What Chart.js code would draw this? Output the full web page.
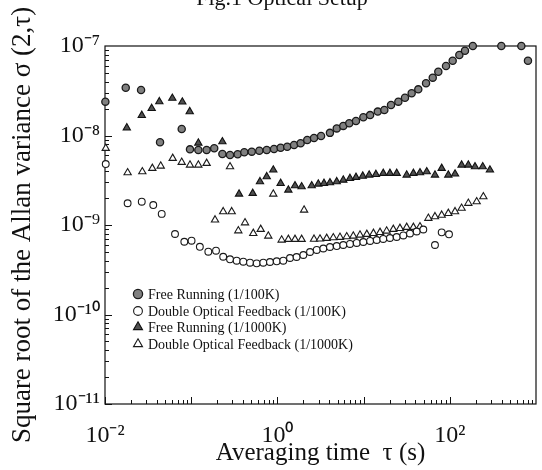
<!DOCTYPE html>
<html><head><meta charset="utf-8">
<script src="https://cdn.jsdelivr.net/npm/chart.js@4"></script>
<style>html,body{margin:0;padding:0;background:#fff}</style>
</head><body>
<canvas id="c" width="542" height="470"></canvas>
<script>
const seriesLabels = [
  'Free Running (1/100K)',
  'Double Optical Feedback (1/100K)',
  'Free Running (1/1000K)',
  'Double Optical Feedback (1/1000K)'
];
const fr100X = [0.0101,0.0174,0.0262,0.0435,0.0776,0.0968,0.121,0.151,0.185,0.230,0.282,0.346,0.413,0.504,0.617,0.752,0.914,1.09,1.30,1.56,1.86,2.22,2.66,3.21,4.07,4.88,5.81,6.82,8.16,9.93,11.9,14.6,17.4,20.8,25.3,30.2,36.1,43.1,53.0,63.4,73.6,90.4,108,129,150,185,396,676,807];
const fr100Y = [2.39e-8,3.42e-8,3.22e-8,8.4e-9,1.18e-8,7.0e-9,6.89e-9,6.89e-9,7.2e-9,6.21e-9,6.05e-9,6.17e-9,6.5e-9,6.6e-9,6.76e-9,6.89e-9,7.07e-9,7.31e-9,7.5e-9,7.83e-9,8.18e-9,8.9e-9,9.38e-9,9.87e-9,1.07e-8,1.20e-8,1.28e-8,1.37e-8,1.45e-8,1.60e-8,1.69e-8,1.85e-8,1.93e-8,2.19e-8,2.39e-8,2.64e-8,2.96e-8,3.28e-8,3.83e-8,4.43e-8,5.16e-8,5.98e-8,6.85e-8,7.93e-8,8.86e-8,1e-7,1e-7,1e-7,6.85e-8];
const dof100X = [0.0102,0.0183,0.0267,0.0363,0.0455,0.0649,0.0832,0.101,0.126,0.158,0.194,0.235,0.282,0.337,0.402,0.481,0.575,0.686,0.820,0.982,1.17,1.40,1.67,2.00,2.39,2.86,3.41,4.07,4.88,5.81,6.95,8.32,9.93,11.9,14.2,16.9,20.2,24.2,28.9,34.5,41.3,49.3,67.3,80.5,97.9];
const dof100Y = [4.8e-9,1.75e-9,1.82e-9,1.67e-9,1.33e-9,7.93e-10,6.5e-10,6.68e-10,5.71e-10,5.03e-10,5.16e-10,4.42e-10,4.14e-10,3.99e-10,3.89e-10,3.79e-10,3.73e-10,3.79e-10,3.86e-10,3.93e-10,3.99e-10,4.28e-10,4.39e-10,4.62e-10,4.99e-10,5.26e-10,5.46e-10,5.68e-10,5.82e-10,5.98e-10,6.14e-10,6.30e-10,6.46e-10,6.63e-10,6.80e-10,6.98e-10,7.16e-10,7.34e-10,7.64e-10,8.04e-10,8.46e-10,8.91e-10,5.98e-10,8.28e-10,7.87e-10];
const fr1000X = [0.0179,0.0267,0.0348,0.0427,0.0604,0.0789,0.0961,0.121,0.230,0.359,0.517,0.628,0.752,0.896,1.09,1.34,1.60,1.91,2.50,2.98,3.47,4.07,4.88,5.81,6.95,8.16,9.77,11.6,13.9,16.9,20.2,24.2,31.6,37.8,45.1,54.0,67.3,80.5,96.1,115,137,164,196,241,292];
const fr1000Y = [1.22e-8,1.68e-8,2.01e-8,2.39e-8,2.61e-8,2.37e-8,1.85e-8,8.24e-9,8.53e-9,2.22e-9,2.26e-9,3.05e-9,3.47e-9,4.12e-9,2.92e-9,2.46e-9,2.75e-9,2.68e-9,2.75e-9,2.87e-9,2.92e-9,2.97e-9,3.05e-9,3.18e-9,3.32e-9,3.41e-9,3.52e-9,3.62e-9,3.68e-9,3.78e-9,3.78e-9,3.78e-9,3.62e-9,3.78e-9,3.84e-9,3.94e-9,3.62e-9,4.30e-9,3.62e-9,3.72e-9,4.68e-9,4.68e-9,4.48e-9,4.48e-9,4.12e-9];
const dof1000X = [0.0102,0.0183,0.0271,0.0354,0.0443,0.0610,0.0776,0.0968,0.121,0.151,0.282,0.189,0.235,0.295,0.352,0.421,0.525,0.640,0.784,0.896,1.12,1.34,1.60,1.91,2.04,2.66,3.12,3.73,4.45,5.32,6.37,7.59,9.08,10.9,13.0,15.5,18.5,22.1,26.4,31.6,37.8,45.1,56.4,67.3,80.5,96.1,115,137,164,205,245];
const dof1000Y = [7.2e-9,3.84e-9,3.94e-9,4.30e-9,4.56e-9,5.56e-9,5.02e-9,4.68e-9,4.68e-9,4.89e-9,4.48e-9,1.14e-9,1.41e-9,1.41e-9,8.63e-10,1.06e-9,8.07e-10,8.95e-10,7.53e-10,2.22e-9,6.8e-10,6.92e-10,6.92e-10,6.92e-10,1.47e-9,6.95e-10,6.98e-10,7.1e-10,7.21e-10,7.29e-10,7.4e-10,7.53e-10,7.73e-10,7.87e-10,8.07e-10,8.28e-10,8.57e-10,8.95e-10,9.18e-10,9.42e-10,9.42e-10,9.57e-10,1.19e-9,1.24e-9,1.29e-9,1.35e-9,1.41e-9,1.54e-9,1.75e-9,1.82e-9,2.07e-9];

const xTickValues = [1e-2, 1e0, 1e2];
const xTickLabels = ['10\u207B\u00B2', '10\u2070', '10\u00B2'];
const yTickValues = [1e-11, 1e-10, 1e-9, 1e-8, 1e-7];
const yTickLabels = ['10\u207B\u00B9\u00B9', '10\u207B\u00B9\u2070', '10\u207B\u2079', '10\u207B\u2078', '10\u207B\u2077'];
const chartTitle = 'Fig.1 Optical Setup';
const xTitle = 'Averaging time  \u03C4 (s)';
const yTitle = 'Square root of the Allan variance \u03C3 (2,\u03C4)';

const SERIF = "'Liberation Serif', 'Times New Roman', serif";
const styles = [
  {pointStyle:'circle', radius:3.6, bg:'#808080', border:'#1a1a1a', bw:1.3},
  {pointStyle:'circle', radius:3.4, bg:'#ffffff', border:'#1a1a1a', bw:1.1},
  {pointStyle:'triangle', radius:4.2, bg:'#505050', border:'#111111', bw:1.1},
  {pointStyle:'triangle', radius:4.2, bg:'#ffffff', border:'#1a1a1a', bw:1.1}
];
const xs = [fr100X, dof100X, fr1000X, dof1000X];
const ys = [fr100Y, dof100Y, fr1000Y, dof1000Y];

const datasets = seriesLabels.map((lab, k) => ({
  label: lab,
  data: xs[k].map((x, i) => ({x: x, y: ys[k][i]})),
  showLine: false,
  pointStyle: styles[k].pointStyle,
  pointRadius: styles[k].radius,
  pointBackgroundColor: styles[k].bg,
  pointBorderColor: styles[k].border,
  pointBorderWidth: styles[k].bw,
  clip: false
}));

const framePlugin = {
  id: 'frameTicks',
  beforeDatasetsDraw(chart) {
    const {ctx, chartArea: a, scales: {x, y}} = chart;
    ctx.save();
    ctx.strokeStyle = '#111';
    ctx.lineWidth = 1.2;
    ctx.strokeRect(a.left, a.top, a.right - a.left, a.bottom - a.top);
    ctx.lineWidth = 1;
    ctx.beginPath();
    for (let e = -2; e <= 2; e++) {
      for (let m = 1; m <= 9; m++) {
        const px = Math.round(x.getPixelForValue(m * Math.pow(10, e))) + 0.5;
        const len = m === 1 ? 7 : 4;
        ctx.moveTo(px, a.bottom); ctx.lineTo(px, a.bottom - len);
      }
    }
    for (let e = -11; e <= -8; e++) {
      for (let m = 1; m <= 9; m++) {
        const py = Math.round(y.getPixelForValue(m * Math.pow(10, e))) + 0.5;
        const len = m === 1 ? 7 : 4;
        ctx.moveTo(a.left, py); ctx.lineTo(a.left + len, py);
      }
    }
    ctx.stroke();
    ctx.restore();
  },
  afterDraw(chart) {
    const {ctx} = chart;
    ctx.save();
    ctx.fillStyle = '#111';
    ctx.font = '22px ' + SERIF;
    ctx.textAlign = 'center';
    ctx.textBaseline = 'alphabetic';
    ctx.fillText(chartTitle, 282, 5);
    const lx = 138, rows = [294, 311, 327, 344];
    ctx.font = '14px ' + SERIF;
    ctx.textAlign = 'left';
    ctx.textBaseline = 'middle';
    seriesLabels.forEach((lab, k) => {
      const s = styles[k];
      ctx.fillStyle = s.bg; ctx.strokeStyle = s.border; ctx.lineWidth = s.bw;
      Chart.helpers.drawPoint(ctx, {pointStyle: s.pointStyle, radius: s.radius + 1, borderWidth: s.bw, rotation: 0}, lx, rows[k]);
      ctx.fillStyle = '#111';
      ctx.fillText(lab, lx + 10, rows[k] + 1);
    });
    ctx.restore();
  }
};

new Chart(document.getElementById('c'), {
  type: 'scatter',
  data: {datasets},
  plugins: [framePlugin],
  options: {
    responsive: false,
    animation: false,
    devicePixelRatio: 1,
    layout: {padding: {top: 46, right: 6, left: 0, bottom: 0}},
    plugins: {legend: {display: false}, tooltip: {enabled: false}},
    scales: {
      x: {
        type: 'logarithmic', min: 1e-2, max: 1e3,
        grid: {display: false, drawTicks: false},
        border: {display: false},
        afterBuildTicks: s => { s.ticks = xTickValues.map(v => ({value: v})); },
        afterFit: s => { s.height = 66; },
        ticks: {autoSkip: false, maxRotation: 0, padding: 17, color: '#111',
          font: {family: SERIF, size: 24},
          callback: (v, i) => xTickLabels[i]},
        title: {display: true, text: xTitle, color: '#111',
          font: {family: SERIF, size: 25}, padding: {top: 0, bottom: 2}}
      },
      y: {
        type: 'logarithmic', min: 1e-11, max: 1e-7,
        grid: {display: false, drawTicks: false},
        border: {display: false},
        afterBuildTicks: s => { s.ticks = yTickValues.map(v => ({value: v})); },
        afterFit: s => { s.width = 105; },
        ticks: {autoSkip: false, padding: 5, color: '#111',
          font: {family: SERIF, size: 24},
          callback: (v, i) => yTickLabels[i]},
        title: {display: true, text: yTitle, color: '#111',
          font: {family: SERIF, size: 27}, padding: {top: 7, bottom: 0}}
      }
    }
  }
});
</script>
</body></html>
